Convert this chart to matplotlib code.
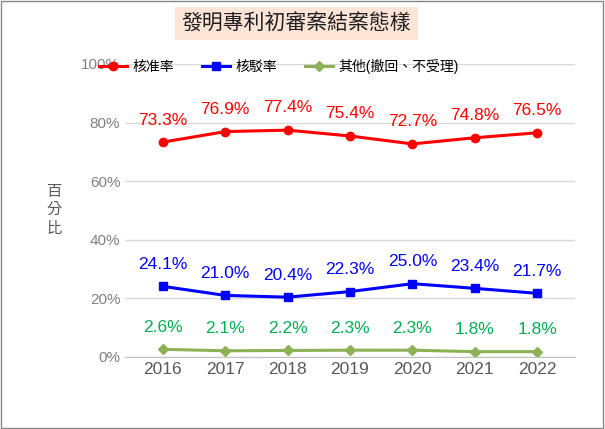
import matplotlib.pyplot as plt
import matplotlib.patches as mpatches

plt.rcParams['font.family'] = ['Liberation Sans', 'Noto Sans CJK TC', 'DejaVu Sans']

years = ["2016", "2017", "2018", "2019", "2020", "2021", "2022"]
approve = [73.3, 76.9, 77.4, 75.4, 72.7, 74.8, 76.5]
reject = [24.1, 21.0, 20.4, 22.3, 25.0, 23.4, 21.7]
other = [2.6, 2.1, 2.2, 2.3, 2.3, 1.8, 1.8]

fig = plt.figure(figsize=(6.05, 4.29), dpi=100)
fig.patches.append(mpatches.Rectangle((0.002, 0.002), 0.995, 0.995, transform=fig.transFigure,
                                      fill=False, edgecolor='#888888', lw=1))
ax = fig.add_axes([0.207, 0.168, 0.743, 0.683])
x = range(len(years))

ax.plot(x, approve, color='#FF0000', marker='o', ms=6, lw=2.2, label='核准率')
ax.plot(x, reject, color='#0000FF', marker='s', ms=6, lw=2.2, label='核駁率')
ax.plot(x, other, color='#8DB255', marker='D', ms=5, lw=2.2, label='其他(撤回、不受理)')

for i in x:
    ax.text(i, approve[i] + 5, f"{approve[i]:.1f}%", color='#FF0000', ha='center', va='bottom', fontsize=12.5)
    ax.text(i, reject[i] + 5, f"{reject[i]:.1f}%", color='#0000FF', ha='center', va='bottom', fontsize=12.5)
    ax.text(i, other[i] + 5, f"{other[i]:.1f}%", color='#00B050', ha='center', va='bottom', fontsize=12.5)

ax.set_ylim(0, 100)
ax.set_xlim(-0.6, 6.6)
ax.set_yticks(range(0, 101, 20))
ax.set_yticklabels([f"{v}%" for v in range(0, 101, 20)], color='#808080', fontsize=11)
ax.set_xticks(list(x))
ax.set_xticklabels(years, color='#595959', fontsize=12.5)
ax.tick_params(length=0)
ax.grid(axis='y', color='#D9D9D9', lw=1)
for s in ['top', 'right', 'left']:
    ax.spines[s].set_visible(False)
ax.spines['bottom'].set_color('#BFBFBF')

fig.text(0.09, 0.51, "百\n分\n比", color='#595959', fontsize=11, ha='center', va='center', linespacing=1.4)

ax.legend(loc='center left', bbox_to_anchor=(-0.07, 0.99), ncol=3, frameon=False, fontsize=10,
          handlelength=2.0, handletextpad=0.4, columnspacing=2.0, borderaxespad=0)

fig.text(0.49, 0.945, "發明專利初審案結案態樣", fontsize=15, ha='center', va='center', color='#1F1F1F',
         bbox=dict(boxstyle='square,pad=0.3', facecolor='#FCE4D6', edgecolor='none'))

fig.savefig("out.png", dpi=100)
